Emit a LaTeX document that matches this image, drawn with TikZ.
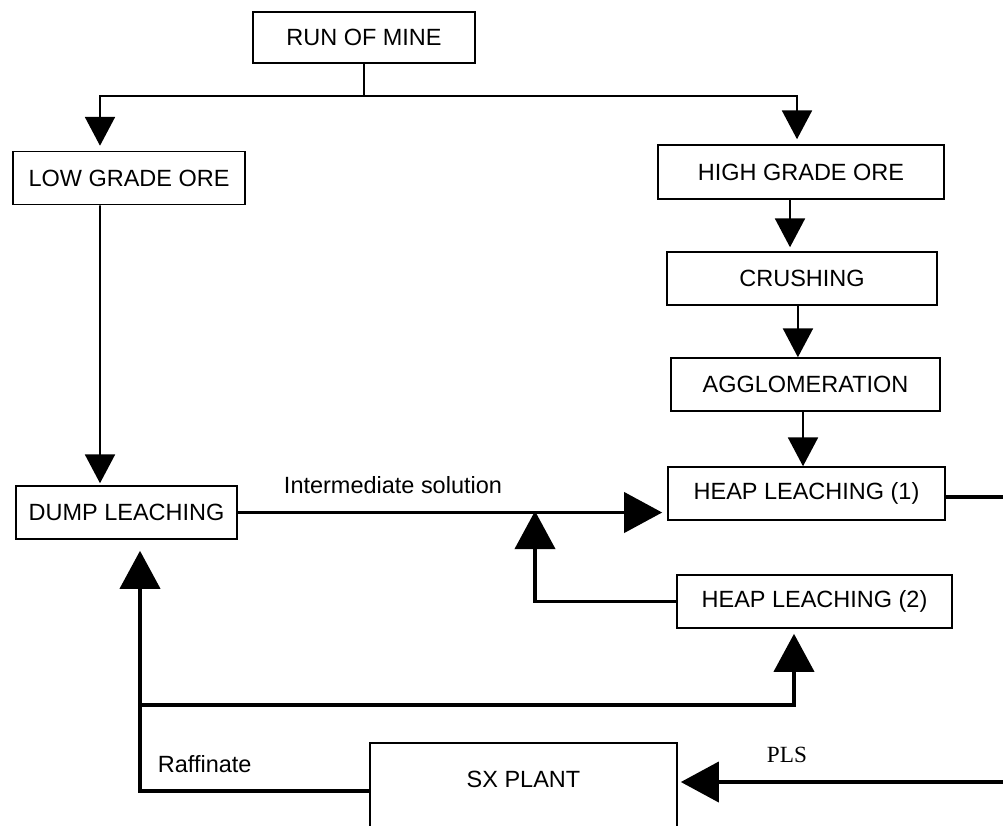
\documentclass[tikz,border=0pt]{standalone}
\usepackage{fontspec}
\setmainfont{Liberation Sans}
\newfontfamily\plsfont{Liberation Serif}
\usetikzlibrary{arrows.meta}

\begin{document}
\begin{tikzpicture}[x=0.025cm, y=-0.025cm, font=\fontsize{16.7}{20}\selectfont,
        box/.style={draw, line width=1.1pt, inner sep=0pt, minimum height=1.325cm},
        flow/.style={line width=1.3pt, -{Triangle[width=0.75cm, length=0.72cm]}},
        bigflow/.style={line width=2.8pt, -{Triangle[width=1cm, length=0.95cm]}}]
    \useasboundingbox (0,0) rectangle (1003,825);
    \clip (0,0) rectangle (1003,825);
    % boxes
    \node[box, minimum width=5.55cm, minimum height=1.275cm] (rom) at (364,37.5) {RUN OF MINE};
    \node[box, minimum width=5.8cm] (low) at (129,178) {LOW GRADE ORE};
    \node[box, minimum width=7.15cm, minimum height=1.35cm] (high) at (801,172) {HIGH GRADE ORE};
    \node[box, minimum width=6.75cm] (crush) at (802,278.5) {CRUSHING};
    \node[box, minimum width=6.725cm] (agglom) at (805.5,384.5) {AGGLOMERATION};
    \node[box, minimum width=6.925cm] (heap1) at (806.5,493.5) {HEAP LEACHING (1)};
    \node[box, minimum width=6.875cm] (heap2) at (814.5,601.5) {HEAP LEACHING (2)};
    \node[box, minimum width=5.525cm] (dump) at (126.5,512.5) {DUMP LEACHING};
    \node[box, anchor=north, minimum width=7.675cm, text height=1.125cm, text depth=1.275cm] (sx) at (523.5,742) {SX PLANT};
    % labels
    \node[anchor=base west] (inter) at (279,493) {Intermediate solution};
    \node[anchor=base west] (raff) at (153,772) {Raffinate};
    \node[anchor=base west, font=\fontsize{16.5}{20}\plsfont] (pls) at (762,762) {PLS};
    % ore flow
    \coordinate (split) at (364,96);
    \draw[line width=1.3pt] (rom.south) -- (split);
    \draw[flow] (split) -| ([xshift=-0.725cm, yshift=0.125cm]low.north);
    \draw[flow] (split) -| ([xshift=-0.1cm, yshift=0.125cm]high.north);
    \draw[flow] ([xshift=-0.725cm]low.south) -- ([xshift=-0.6625cm, yshift=0.05cm]dump.north);
    \draw[flow] ([xshift=-0.275cm]high.south) -- ([xshift=-0.3cm, yshift=0.1cm]crush.north);
    \draw[flow] ([xshift=-0.1cm]crush.south) -- ([xshift=-0.19cm]agglom.north);
    \draw[flow] ([xshift=-0.0625cm]agglom.south) -- ([xshift=-0.0875cm]heap1.north);
    % solution flow
    \coordinate (join) at (535,511);
    \coordinate (edge1) at (1003,497);
    \coordinate (plsin) at (1003,782);
    \coordinate (tee) at (140,705);
    \draw[bigflow, shorten >=0.125cm] (dump.east) -- (dump.east -| heap1.west);
    \draw[bigflow] (heap2.west) -| (join);
    \draw[line width=2.8pt] (heap1.east |- edge1) -- (edge1);
    \draw[bigflow, shorten >=0.075cm] (plsin) -- (plsin -| sx.east);
    \draw[bigflow, shorten >=0.275cm] (sx.west) -| ([xshift=0.3375cm]dump.south);
    \draw[bigflow, shorten >=0.125cm] (tee) -| ([xshift=-0.5125cm]heap2.south);
\end{tikzpicture}
\end{document}
